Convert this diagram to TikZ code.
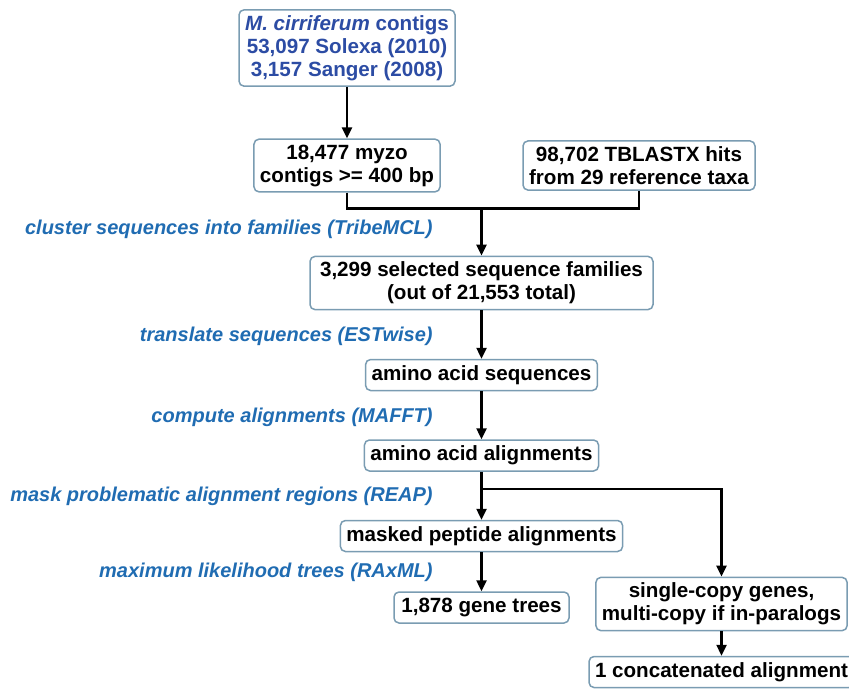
\documentclass[tikz,border=0pt]{standalone}
\usepackage{fontspec}
\setmainfont{Liberation Sans}
\usepackage{xcolor}
\usepackage{tikz}
\usetikzlibrary{shapes,arrows.meta,positioning}

\definecolor{labelblue}{RGB}{32,108,178}
\definecolor{srcblue}{RGB}{44,76,164}
\definecolor{boxline}{RGB}{122,156,178}

\begin{document}
\begin{tikzpicture}[x=0.5pt, y=-0.5pt, node distance=2cm, auto, >={Triangle[length=5.5pt,width=5pt]}]
    \tikzset{
        stepbox/.style={rectangle, rounded corners=2.5pt, draw=boxline, line width=0.75pt, fill=white, align=center, inner xsep=3pt, inner ysep=2.75pt, minimum height=15.5pt, font=\fontsize{10.3}{11.5}\selectfont\bfseries},
        steplabel/.style={anchor=east, inner sep=0pt, text=labelblue, font=\fontsize{10}{12}\selectfont\bfseries\itshape},
        flow/.style={line width=1.2pt}
    }
    \useasboundingbox (0,0) rectangle (849,691);

    \node [stepbox, text=srcblue, minimum width=108pt] (src) at (347,48) {\textit{M. cirriferum} contigs\\53,097 Solexa (2010)\\3,157 Sanger (2008)};
    \node [stepbox, minimum width=92pt, below of=src, node distance=58.75pt] (myzo) {18,477 myzo\\contigs >= 400 bp};
    \node [stepbox, minimum width=116pt, right of=myzo, node distance=146pt] (hits) {98,702 TBLASTX hits\\from 29 reference taxa};
    \node [stepbox, minimum width=171.5pt, below of=myzo, node distance=58.75pt, xshift=67.25pt] (fam) {3,299 selected sequence families\\(out of 21,553 total)};
    \node [stepbox, minimum width=115.5pt, below of=fam, node distance=46pt] (aaseq) {amino acid sequences};
    \node [stepbox, minimum width=115pt, below of=aaseq, node distance=40.25pt] (aaaln) {amino acid alignments};
    \node [stepbox, minimum width=139.5pt, below of=aaaln, node distance=40.25pt] (masked) {masked peptide alignments};
    \node [stepbox, minimum width=87.5pt, below of=masked, node distance=35.75pt] (trees) {1,878 gene trees};
    \node [stepbox, minimum width=124pt, right of=trees, node distance=120pt, yshift=1.75pt] (single) {single-copy genes,\\multi-copy if in-paralogs};
    \node [stepbox, minimum width=127pt, below of=single, node distance=34pt] (concat) {1 concatenated alignment};

    \coordinate [above=23.5pt of fam.north] (merge);
    \coordinate [below=8.5pt of aaaln.south] (branch);

    % step labels
    \node [steplabel] (lclust) at (433,229) {cluster sequences into families (TribeMCL)};
    \node [steplabel] (ltrans) at (433,336) {translate sequences (ESTwise)};
    \node [steplabel] (lalign) at (433,417) {compute alignments (MAFFT)};
    \node [steplabel] (lmask) at (433,496) {mask problematic alignment regions (REAP)};
    \node [steplabel] (lml) at (433,572) {maximum likelihood trees (RAxML)};

    \draw [->, flow] (src) -- (myzo);
    \draw [flow] (myzo) |- (merge) -| (hits);
    \draw [->, flow] (merge) -- (fam);
    \draw [->, flow] (fam) -- (aaseq);
    \draw [->, flow] (aaseq) -- (aaaln);
    \draw [->, flow] (aaaln) -- (masked);
    \draw [->, flow] (branch) -| (single);
    \draw [->, flow] (masked) -- (trees);
    \draw [->, flow] (single) -- (concat);
\end{tikzpicture}
\end{document}
